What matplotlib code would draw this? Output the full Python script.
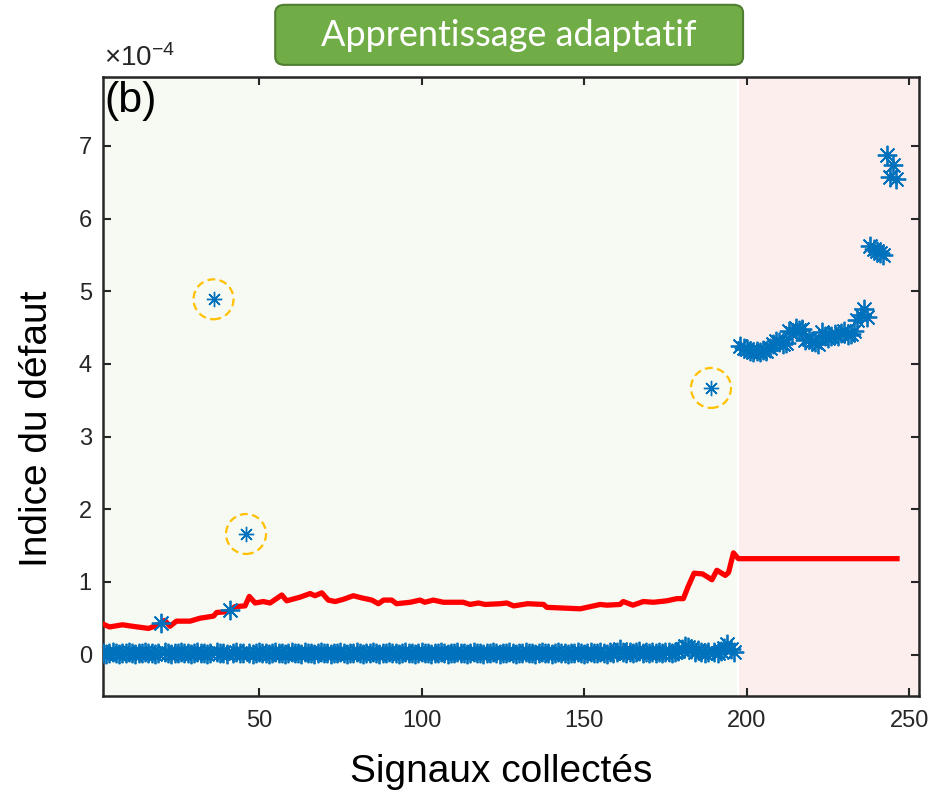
import numpy as np
import matplotlib.pyplot as plt
from matplotlib.patches import Ellipse, FancyBboxPatch

plt.rcParams['font.family'] = ['Liberation Sans', 'DejaVu Sans']
plt.rcParams['mathtext.default'] = 'regular'

# fault index per collected signal (units of 1e-4)
normal_x = np.arange(2, 197)
normal_y = [
    0.02, 0.01, 0.02, 0.03, 0.02, 0.01, 0.02, 0.02, 0.03, 0.02, 0.01, 0.02, 0.02, 0.03, 0.02,
    0.02, 0.01, 0.02, 0.43, 0.03, 0.02, 0.01, 0.02, 0.02, 0.03, 0.02, 0.02, 0.01, 0.02, 0.03,
    0.02, 0.02, 0.01, 0.02, 4.89, 0.03, 0.02, 0.02, 0.01, 0.62, 0.02, 0.03, 0.02, 0.02, 1.66,
    0.02, 0.01, 0.02, 0.03, 0.02, 0.02, 0.01, 0.02, 0.03, 0.02, 0.02, 0.01, 0.02, 0.03, 0.02,
    0.02, 0.01, 0.03, 0.02, 0.02, 0.01, 0.02, 0.03, 0.02, 0.02, 0.01, 0.02, 0.02, 0.03, 0.02,
    0.01, 0.02, 0.02, 0.03, 0.02, 0.01, 0.02, 0.02, 0.03, 0.02, 0.01, 0.02, 0.02, 0.03, 0.02,
    0.02, 0.01, 0.02, 0.03, 0.02, 0.02, 0.01, 0.02, 0.03, 0.02, 0.02, 0.01, 0.02, 0.02, 0.03,
    0.02, 0.01, 0.02, 0.02, 0.03, 0.02, 0.02, 0.01, 0.02, 0.03, 0.02, 0.02, 0.01, 0.02, 0.02,
    0.03, 0.02, 0.01, 0.02, 0.02, 0.03, 0.02, 0.01, 0.02, 0.02, 0.03, 0.02, 0.02, 0.01, 0.02,
    0.03, 0.02, 0.02, 0.01, 0.02, 0.03, 0.02, 0.02, 0.01, 0.02, 0.02, 0.03, 0.02, 0.01, 0.02,
    0.03, 0.02, 0.02, 0.04, 0.02, 0.01, 0.03, 0.02, 0.04, 0.08, 0.03, 0.02, 0.04, 0.02, 0.03,
    0.05, 0.02, 0.03, 0.02, 0.04, 0.02, 0.03, 0.02, 0.04, 0.03, 0.02, 0.03, 0.05, 0.08, 0.12,
    0.10, 0.07, 0.04, 0.06, 0.03, 0.02, 0.04, 3.67, 0.03, 0.02, 0.05, 0.09, 0.14, 0.08, 0.03,
]
fault_x = np.arange(198, 247)
fault_y = [
    4.25, 4.22, 4.21, 4.18, 4.16, 4.18, 4.17, 4.19, 4.18, 4.22, 4.28, 4.31, 4.30, 4.27, 4.29,
    4.46, 4.42, 4.50, 4.47, 4.48, 4.33, 4.35, 4.31, 4.30, 4.28, 4.44, 4.38, 4.36, 4.39, 4.41,
    4.39, 4.43, 4.46, 4.40, 4.41, 4.45, 4.60, 4.68, 4.76, 4.64, 5.62, 5.58, 5.56, 5.53, 5.50,
    6.88, 6.57, 6.74, 6.54,
]
# outliers flagged during the adaptive learning
circled = [36, 46, 189]

# adaptive threshold
thr_x = [2, 4, 8, 11, 16, 19, 21, 22.6, 24.6, 28.8, 31.8, 36, 37, 40.6, 42.6, 45.7, 47,
         48.8, 51.3, 53.4, 57, 58.5, 62.6, 65.7, 67.2, 69.3, 71.3, 73.4, 75.9, 79, 81.6,
         84.7, 86.7, 88.3, 90.8, 92.3, 96.5, 99.5, 101, 103.6, 106.7, 112.8, 114.9, 117.5,
         119.5, 124.2, 126.2, 128.3, 132.6, 137.5, 138.5, 143.6, 148.8, 152.9, 154.9, 157,
         161, 162, 165, 168.2, 171.3, 175.4, 178.5, 180.5, 182, 183.8, 186.4, 189.3, 190.8,
         193.4, 194.4, 195.9, 197.4, 246.2]
thr_y = [0.42, 0.38, 0.41, 0.39, 0.36, 0.41, 0.47, 0.39, 0.46, 0.46, 0.50, 0.53, 0.58,
         0.59, 0.66, 0.67, 0.80, 0.71, 0.73, 0.71, 0.82, 0.74, 0.79, 0.84, 0.81, 0.85, 0.75,
         0.73, 0.76, 0.81, 0.78, 0.75, 0.70, 0.75, 0.75, 0.70, 0.72, 0.75, 0.72, 0.75, 0.72,
         0.72, 0.69, 0.71, 0.69, 0.70, 0.71, 0.67, 0.70, 0.69, 0.65, 0.64, 0.63, 0.67, 0.69,
         0.68, 0.69, 0.73, 0.68, 0.73, 0.72, 0.74, 0.77, 0.77, 0.94, 1.12, 1.11, 1.03, 1.16,
         1.09, 1.13, 1.40, 1.32, 1.32]

blue = '#0072BD'
asterisk = (8, 2, 0)
dark = '#262626'

fig = plt.figure(figsize=(9.49, 8.01), dpi=100)
ax = fig.add_axes([0.1085, 0.1311, 0.86, 0.7728])

ax.axvspan(2, 196.9, color='#F7FAF2', lw=0, zorder=0)
ax.axvspan(197.6, 253, color='#FDEEEE', lw=0, zorder=0)

ax.plot(thr_x, thr_y, color='red', lw=3.8, solid_joinstyle='round', zorder=3)

nx = np.asarray(normal_x)
ny = np.asarray(normal_y)
mask = np.isin(nx, circled)
ax.plot(nx[~mask], ny[~mask], ls='none', marker=asterisk, ms=14, mew=1.3,
        color=blue, zorder=4)
ax.plot(fault_x, fault_y, ls='none', marker=asterisk, ms=14, mew=1.3,
        color=blue, zorder=4)
ax.plot(nx[mask], ny[mask], ls='none', marker=asterisk, ms=11, mew=1.0,
        color=blue, zorder=4)
for cx, cy in zip(nx[mask], ny[mask]):
    ax.add_patch(Ellipse((cx, cy), 12.3, 0.55, fill=False, ec='#FFC000', lw=1.6,
                         ls=(0, (3.5, 2)), zorder=5))

ax.set_xlim(2, 253)
ax.set_ylim(-0.57, 7.95)
ax.set_xticks([50, 100, 150, 200, 250])
ax.set_yticks(range(0, 8))

for s in ax.spines.values():
    s.set_color(dark)
    s.set_linewidth(1.8)
ax.tick_params(direction='in', top=True, right=True, length=6, width=1.5,
               colors=dark, labelsize=17)
ax.tick_params(axis='x', pad=10)
ax.tick_params(axis='y', pad=8)

ax.set_xlabel('Signaux collectés', fontsize=28, va='center')
ax.xaxis.set_label_coords(0.488, -0.123)
ax.set_ylabel('Indice du défaut', fontsize=28, va='center')
ax.yaxis.set_label_coords(-0.081, 0.431)

ax.text(0.001, 1.008, r'$\times10^{-4}$', transform=ax.transAxes, fontsize=20,
        color=dark, va='bottom', ha='left')
ax.text(0.002, 0.993, '(b)', transform=ax.transAxes, fontsize=31, va='top', ha='left')

box = FancyBboxPatch((0.29, 0.919), 0.493, 0.075, transform=fig.transFigure,
                     boxstyle='round,pad=0,rounding_size=0.01',
                     fc='#70AD47', ec='#507E32', lw=1.5)
fig.patches.append(box)
fig.text(0.5365, 0.956, 'Apprentissage adaptatif', color='white', fontsize=26,
         family=['Lato', 'DejaVu Sans'], ha='center', va='center')

fig.savefig('out.png', dpi=100)
